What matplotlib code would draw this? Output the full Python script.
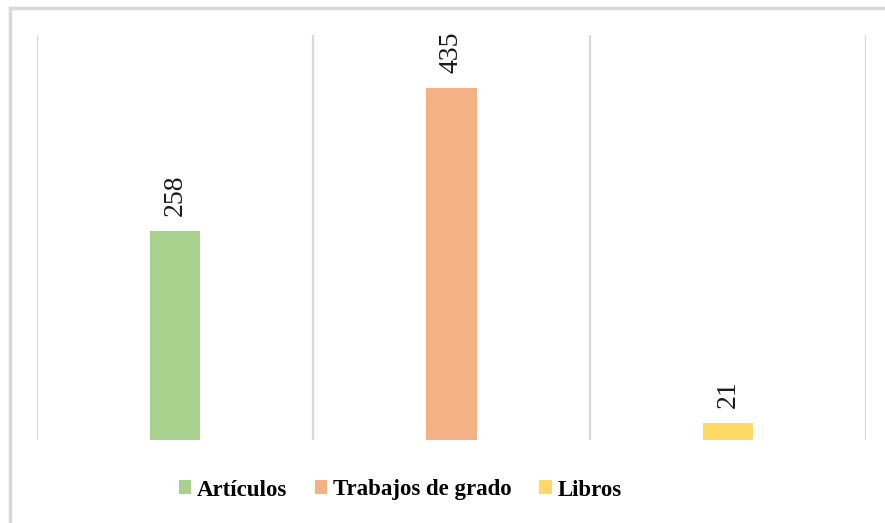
import numpy as np
import matplotlib.pyplot as plt
from matplotlib.lines import Line2D
from matplotlib.patches import Patch

categories = ["Artículos", "Trabajos de grado", "Libros"]
values = [258, 435, 21]
colors = ["#A9D18E", "#F4B183", "#FFD966"]

plt.rcParams['font.family'] = ['Liberation Serif', 'DejaVu Serif']

fig = plt.figure(figsize=(8.85, 5.23), dpi=100)
ax = fig.add_axes([37 / 885, 1 - 440 / 523, (866 - 37) / 885, (440 - 35) / 523])

x = np.arange(len(categories))
bars = ax.bar(x, values, width=0.181, color=colors, zorder=3)

for b, v in zip(bars, values):
    ax.annotate(str(v), (b.get_x() + b.get_width() / 2, v),
                xytext=(0, 10.5), textcoords='offset points',
                rotation=90, ha='center', va='bottom', fontsize=20, color='#1a1a1a')

ax.set_xlim(-0.5, len(categories) - 0.5)
ax.set_ylim(0, 500)
for gx in np.arange(-0.5, len(categories), 1.0):
    ax.axvline(gx, color='#D9D9D9', lw=1.6, zorder=1)

ax.set_xticks([])
ax.set_yticks([])
for s in ax.spines.values():
    s.set_visible(False)

handles = [Patch(facecolor=c, edgecolor='none') for c in colors]
fig.legend(handles, categories, loc='center', bbox_to_anchor=(400 / 885, 1 - 490 / 523),
           ncol=3, frameon=False, handlelength=0.55, handleheight=0.55, handletextpad=0.25,
           columnspacing=1.2, prop={'weight': 'bold', 'size': 16.5})

# outer frame (left and top edges of the crop)
fig.add_artist(Line2D([10 / 885, 10 / 885], [0, 1 - 8 / 523], transform=fig.transFigure,
                      color='#D9D9D9', lw=2.5))
fig.add_artist(Line2D([10 / 885, 1], [1 - 8 / 523, 1 - 8 / 523], transform=fig.transFigure,
                      color='#D9D9D9', lw=2.5))

fig.savefig('out.png', dpi=100)
